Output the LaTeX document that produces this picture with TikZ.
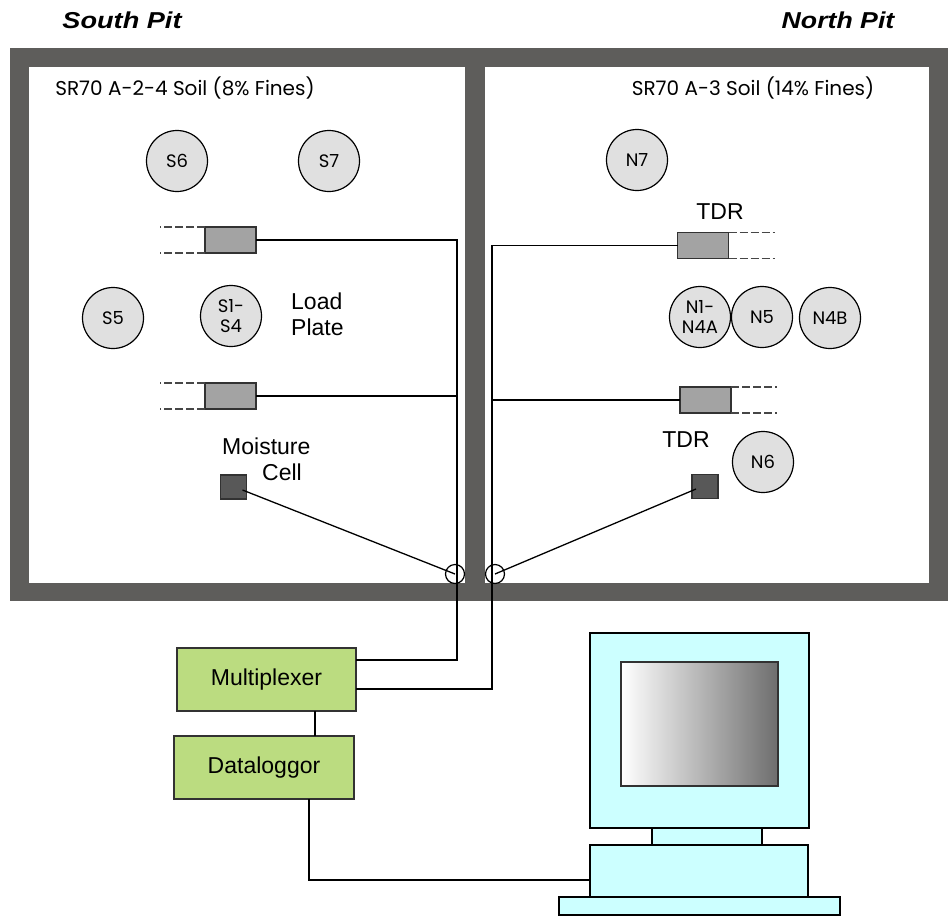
\documentclass[tikz,border=0pt]{standalone}
\usepackage{fontspec}
\setmainfont{Liberation Sans}
\newfontfamily\gothic{Poppins}
\usetikzlibrary{calc}
\definecolor{wall}{RGB}{94,93,91}
\definecolor{probefill}{RGB}{224,224,224}
\definecolor{tdrfill}{RGB}{163,163,163}
\definecolor{cellfill}{RGB}{88,88,88}
\definecolor{darkline}{RGB}{50,50,50}
\definecolor{unitgreen}{RGB}{187,220,128}
\definecolor{pccyan}{RGB}{204,255,255}
\definecolor{leadgray}{RGB}{70,70,70}
\tikzset{
  probe/.style={circle, draw=black, line width=1.2pt, fill=probefill, minimum size=61pt,
    inner sep=0pt, align=center, font=\gothic\fontsize{18}{20}\selectfont},
  tdrbox/.style={rectangle, draw=darkline, line width=1.5pt, fill=tdrfill,
    minimum width=51pt, minimum height=26pt, inner sep=0pt, outer sep=0pt},
  cellbox/.style={rectangle, draw=darkline, line width=1.2pt, fill=cellfill,
    minimum width=26pt, minimum height=24pt, inner sep=0pt, outer sep=0pt},
  gland/.style={circle, draw=black, line width=1.2pt, minimum size=19pt, inner sep=0pt},
  unitbox/.style={rectangle, draw=darkline, line width=1.5pt, fill=unitgreen,
    minimum height=63pt, inner sep=0pt, outer sep=0pt, font=\fontsize{23}{26}\selectfont},
  pcpart/.style={rectangle, draw=black, line width=2.5pt, fill=pccyan, inner sep=0pt, outer sep=0pt},
  wire/.style={draw=black, line width=1.3pt},
  lead/.style={draw=leadgray, line width=1.5pt, dash pattern=on 8pt off 3pt},
  tag/.style={font=\fontsize{23}{26}\selectfont, inner sep=0pt},
  soiltag/.style={font=\gothic\fontsize{20}{23}\selectfont, inner sep=0pt},
  pittag/.style={font=\bfseries\itshape\fontsize{23}{26}\selectfont, inner sep=0pt}
}
\begin{document}
\begin{tikzpicture}[x=1pt,y=-1pt]
\useasboundingbox (0,0) rectangle (948,916);

% pit walls and the two soil beds
\fill[wall] (10,48) rectangle (948,601);
\fill[white] (29,67) rectangle (465,583);
\fill[white] (485,67) rectangle (929,583);

% headings
\node[pittag] (south) at (122,20) {\scalebox{1.18}[1]{South Pit}};
\node[pittag] (north) at (838,20) {\scalebox{1.16}[1]{North Pit}};
\node[soiltag] (soilS) at (185,88) {SR70 A-2-4 Soil (8\% Fines)};
\node[soiltag] (soilN) at (753,88) {SR70 A-3 Soil (14\% Fines)};

% south pit probes
\node[probe] (S6) at (177,161) {S6};
\node[probe] (S7) at (329,161) {S7};
\node[probe] (S5) at (113,318) {S5};
\node[probe] (S1) at (231,316) {S1-\\S4};
\node[tag, align=left, anchor=west] (load) at (291,314) {Load\\Plate};

% north pit probes
\node[probe] (N7) at (637,160) {N7};
\node[probe] (N1) at (700,317) {N1-\\N4A};
\node[probe] (N5) at (762,317) {N5};
\node[probe] (N4B) at (830,318) {N4B};
\node[probe] (N6) at (763,462) {N6};

% TDR sensors with their rods
\node[tdrbox] (tdrSa) at (230.5,240) {};
\node[tdrbox] (tdrSb) at (230.5,396) {};
\node[tdrbox] (tdrNa) at (703,245.5) {};
\node[tdrbox] (tdrNb) at (705.5,400) {};
\draw[lead] (tdrSa.north west) -- ++(-45,0);
\draw[lead] (tdrSa.south west) -- ++(-45,0);
\draw[lead] (tdrSb.north west) -- ++(-45,0);
\draw[lead] (tdrSb.south west) -- ++(-45,0);
\draw[lead] (tdrNa.north east) -- ++(46,0);
\draw[lead] (tdrNa.south east) -- ++(46,0);
\draw[lead] (tdrNb.north east) -- ++(46,0);
\draw[lead] (tdrNb.south east) -- ++(46,0);
\node[tag] (tdrtagA) at (720,212) {TDR};
\node[tag] (tdrtagB) at (686,440) {TDR};

% moisture cells
\node[cellbox] (mcS) at (233.5,487) {};
\node[cellbox] (mcN) at (705,486.5) {};
\node[tag, align=left, anchor=north west] (mctag) at (222,438) {Moisture\\\hspace*{40pt}Cell};

% cable glands through the wall
\node[gland] (glandS) at (455,574) {};
\node[gland] (glandN) at (495,574) {};

% logging units
\node[unitbox, minimum width=179pt] (mux) at (266.5,679.5) {Multiplexer};
\node[unitbox, minimum width=180pt] (dl) at (264,767.5) {Dataloggor};

% computer
\node[pcpart, minimum width=281pt, minimum height=18pt] (pckey) at (699.5,906) {};
\node[pcpart, minimum width=218pt, minimum height=52pt] (pcbase) at (699,871) {};
\node[pcpart, minimum width=110pt, minimum height=17pt] (pcneck) at (707,836.5) {};
\node[pcpart, minimum width=219pt, minimum height=195pt] (pcmon) at (699.5,730.5) {};
\node[rectangle, draw=darkline, line width=2pt, left color=white, right color=black!57,
  minimum width=157pt, minimum height=124pt, inner sep=0pt, outer sep=0pt] (pcscreen) at (699.5,724) {};

% cabling
\coordinate (busS) at (457,660);
\coordinate (busN) at (492,689);
\coordinate (muxlink) at (315,720);
\coordinate (pclink) at (309,880);
\draw[wire] (tdrSa.east) -| (busS) -- (mux.east |- busS);
\draw[wire] (tdrSb.east) -- (tdrSb.east -| busS);
\draw[wire] (tdrNa.west) -| (busN) -- (mux.east |- busN);
\draw[wire] (tdrNb.west) -- (tdrNb.west -| busN);
\draw[wire] ([shift={(9,3)}]mcS.center) -- (glandS.center);
\draw[wire] ([shift={(-9,2.5)}]mcN.center) -- (glandN.center);
\draw[wire] (mux.south -| muxlink) -- (dl.north -| muxlink);
\draw[wire] (dl.south -| pclink) |- (pcbase.west |- pclink);
\end{tikzpicture}
\end{document}
